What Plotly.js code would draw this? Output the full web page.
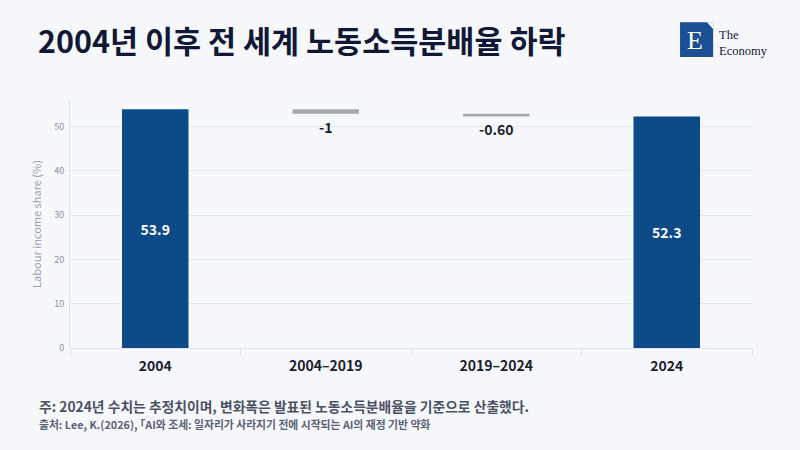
<!DOCTYPE html>
<html>
<head>
<meta charset="utf-8">
<script src="https://cdn.plot.ly/plotly-3.0.1.min.js"></script>
<style>
  html, body { margin: 0; padding: 0; background: #f7f8fc; }
  #chart { width: 800px; height: 450px; }
</style>
</head>
<body>
<div id="chart"></div>
<script>
// data
const categories = ['2004', '2004–2019', '2019–2024', '2024'];
const measures = ['absolute', 'relative', 'relative', 'total'];
const values = [53.9, -1, -0.6, 0];
const labels = ['53.9', '-1', '-0.60', '52.3'];
const yTicks = [0, 10, 20, 30, 40, 50];

const blue = '#0c4a88';
const gray = '#a3aab0';
const font = '"Noto Sans CJK KR", "Noto Sans", sans-serif';
const serif = '"Liberation Serif", "DejaVu Serif", serif';

const trace = {
  type: 'waterfall',
  x: categories,
  y: values,
  measure: measures,
  text: labels,
  textposition: ['inside', 'outside', 'outside', 'inside'],
  insidetextanchor: 'middle',
  textfont: { family: font, size: 14, color: '#1a1d2e', weight: 700 },
  insidetextfont: { family: font, size: 14, color: '#ffffff', weight: 700 },
  outsidetextfont: { family: font, size: 14, color: '#1a1d2e', weight: 700 },
  increasing: { marker: { color: blue } },
  decreasing: { marker: { color: gray } },
  totals: { marker: { color: blue } },
  connector: { visible: false },
  cliponaxis: false,
  hoverinfo: 'none'
};

const layout = {
  width: 800,
  height: 450,
  paper_bgcolor: '#f7f8fc',
  plot_bgcolor: '#f7f8fc',
  margin: { l: 70, r: 48, t: 100, b: 102 },
  showlegend: false,
  waterfallgap: 0.61,
  font: { family: font },
  xaxis: {
    type: 'category',
    tickson: 'boundaries',
    ticks: 'outside',
    ticklen: 7,
    tickcolor: '#e2e4ec',
    ticklabelstandoff: 8,
    showline: false,
    showgrid: false,
    tickfont: { family: font, size: 14, color: '#1a1d2e', weight: 700 },
    fixedrange: true
  },
  yaxis: {
    range: [0, 56],
    tickvals: yTicks,
    showline: true,
    linecolor: '#e2e4ec',
    gridcolor: '#e6e8ef',
    zeroline: true,
    zerolinecolor: '#e2e4ec',
    tickfont: { family: font, size: 9, color: '#8a90a0' },
    ticks: '',
    ticklabelstandoff: 3,
    automargin: true,
    title: { text: 'Labour income share (%)', font: { family: font, size: 11, color: '#9aa0ae' }, standoff: 10 },
    fixedrange: true
  },
  annotations: [
    {
      xref: 'paper', yref: 'paper', x: -0.05, y: 1.24,
      xanchor: 'left', yanchor: 'middle', showarrow: false,
      text: '<b>2004년 이후 전 세계 노동소득분배율 하락</b>',
      font: { family: font, size: 30.5, color: '#111836' }
    },
    {
      xref: 'paper', yref: 'paper', x: -0.049, y: -0.235,
      xanchor: 'left', yanchor: 'middle', showarrow: false,
      text: '<b>주: 2024년 수치는 추정치이며, 변화폭은 발표된 노동소득분배율을 기준으로 산출했다.</b>',
      font: { family: font, size: 13.8, color: '#4a5266' }
    },
    {
      xref: 'paper', yref: 'paper', x: -0.049, y: -0.307,
      xanchor: 'left', yanchor: 'middle', showarrow: false,
      text: '<b>출처: Lee, K.(2026), ｢AI와 조세: 일자리가 사라지기 전에 시작되는 AI의 재정 기반 약화</b>',
      font: { family: font, size: 10.8, color: '#5a6276' }
    },
    {
      xref: 'paper', yref: 'paper', x: 0.949, y: 1.228,
      xanchor: 'left', yanchor: 'middle', showarrow: false,
      text: 'The<br>Economy',
      align: 'left',
      font: { family: serif, size: 12.5, color: '#111836' }
    },
    {
      xref: 'paper', yref: 'paper', x: 0.9165, y: 1.24,
      xanchor: 'center', yanchor: 'middle', showarrow: false,
      text: 'E',
      font: { family: serif, size: 26, color: '#ffffff' }
    }
  ],
  shapes: [
    {
      type: 'rect', xref: 'paper', yref: 'paper',
      x0: 0.8945, x1: 0.943, y0: 1.173, y1: 1.314,
      fillcolor: '#1b4f93', line: { width: 0 }
    },
    {
      type: 'path', xref: 'paper', yref: 'paper',
      path: 'M 0.934 1.314 L 0.943 1.314 L 0.943 1.286 Z',
      fillcolor: '#ffffff', line: { width: 0 }
    }
  ]
};

Plotly.newPlot('chart', [trace], layout, { displayModeBar: false, staticPlot: true });
</script>
</body>
</html>
